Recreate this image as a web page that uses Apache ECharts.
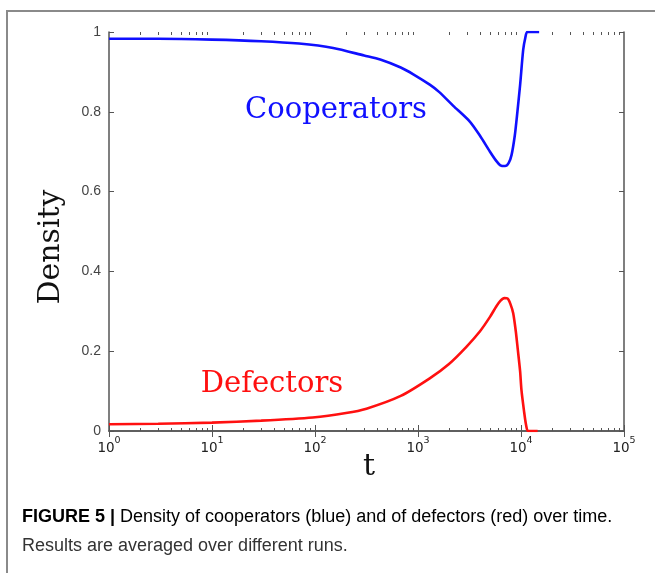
<!DOCTYPE html>
<html>
<head>
<meta charset="utf-8">
<script src="https://cdn.jsdelivr.net/npm/echarts@6/dist/echarts.min.js"></script>
<style>
  html, body { margin: 0; padding: 0; background: #fff; }
  #chart { width: 655px; height: 573px; }
</style>
</head>
<body>
<div id="chart"></div>
<script>
// Time steps (t) and densities for each strategy, averaged over runs
const coopT = [1, 3, 10, 30, 70, 150, 300, 430, 680, 900, 1300, 1600, 2200, 3200, 4000, 5000, 5750, 6300, 7000, 7600, 8100, 8700, 9100, 9800, 10500, 11000, 11500, 15000];
const coopDensity = [0.983, 0.983, 0.981, 0.977, 0.971, 0.960, 0.941, 0.931, 0.911, 0.894, 0.868, 0.850, 0.815, 0.775, 0.740, 0.700, 0.677, 0.666, 0.664, 0.672, 0.692, 0.740, 0.785, 0.867, 0.955, 0.985, 1.0, 1.0];

const defT = [1, 3, 10, 30, 95, 200, 316, 680, 1300, 2000, 2950, 4000, 5000, 5750, 6300, 6900, 7400, 7900, 8400, 8900, 9300, 9800, 10100, 10700, 11200, 11700, 14500];
const defDensity = [0.017, 0.018, 0.021, 0.026, 0.034, 0.045, 0.056, 0.088, 0.132, 0.168, 0.211, 0.250, 0.286, 0.312, 0.326, 0.333, 0.332, 0.318, 0.295, 0.250, 0.205, 0.150, 0.103, 0.050, 0.015, 0.0, 0.0];

const yTicks = [0, 0.2, 0.4, 0.6, 0.8, 1];
const seriesNames = ['Cooperators', 'Defectors'];
const captionBold = 'FIGURE 5 |';
const captionLine1 = ' Density of cooperators (blue) and of defectors (red) over time.';
const captionLine2 = 'Results are averaged over different runs.';

// minor tick positions between decades (2..9 × 10^n)
const minorTicks = [];
for (let n = 0; n < 5; n++) {
  for (let k = 2; k <= 9; k++) minorTicks.push(k * Math.pow(10, n));
}

const axisColor = '#555';
const chart = echarts.init(document.getElementById('chart'), null, { renderer: 'canvas' });

const baseLogAxis = {
  type: 'log', logBase: 10, min: 1, max: 100000, gridIndex: 0,
  axisLine: { show: true, lineStyle: { color: axisColor, width: 1.5 } },
  splitLine: { show: false },
  axisLabel: { show: false }
};

const option = {
  animation: false,
  backgroundColor: '#fff',
  grid: { left: 109, right: 31, top: 32, bottom: 142, containLabel: false },
  xAxis: [
    Object.assign({}, baseLogAxis, {
      position: 'bottom',
      axisTick: { show: true, inside: true, length: 6, lineStyle: { color: axisColor, width: 1 } },
      axisLabel: {
        show: true, margin: 5,
        formatter: function (v) {
          const e = Math.round(Math.log10(v));
          return '{b|10}{s|' + e + '}';
        },
        rich: {
          b: { fontFamily: 'DejaVu Sans', fontSize: 13.5, color: '#222', lineHeight: 19, verticalAlign: 'bottom' },
          s: { fontFamily: 'DejaVu Sans', fontSize: 9.5, color: '#222', lineHeight: 19, verticalAlign: 'top' }
        }
      }
    }),
    Object.assign({}, baseLogAxis, {
      position: 'top',
      axisTick: { show: true, inside: true, length: 6, lineStyle: { color: axisColor, width: 1 } }
    }),
    Object.assign({}, baseLogAxis, {
      position: 'bottom',
      axisLine: { show: false },
      axisTick: { show: true, inside: true, length: 3, customValues: minorTicks, lineStyle: { color: axisColor, width: 1 } }
    }),
    Object.assign({}, baseLogAxis, {
      position: 'top',
      axisLine: { show: false },
      axisTick: { show: true, inside: true, length: 3, customValues: minorTicks, lineStyle: { color: axisColor, width: 1 } }
    })
  ],
  yAxis: [
    {
      type: 'value', min: 0, max: 1, interval: 0.2, position: 'left',
      axisLine: { show: true, lineStyle: { color: axisColor, width: 1.5 } },
      axisTick: { show: true, inside: true, length: 5, customValues: yTicks, lineStyle: { color: axisColor } },
      splitLine: { show: false },
      axisLabel: {
        show: true, margin: 8, color: '#444', fontFamily: 'Liberation Sans', fontSize: 14,
        customValues: yTicks,
        formatter: function (v) { return (v === 0 || v === 1) ? String(v) : v.toFixed(1); }
      }
    },
    {
      type: 'value', min: 0, max: 1, interval: 0.2, position: 'right',
      axisLine: { show: true, lineStyle: { color: axisColor, width: 1.5 } },
      axisTick: { show: true, inside: true, length: 5, lineStyle: { color: axisColor } },
      splitLine: { show: false },
      axisLabel: { show: false }
    }
  ],
  series: [
    {
      name: seriesNames[0], type: 'line', xAxisIndex: 0, yAxisIndex: 0,
      data: coopT.map((t, i) => [t, coopDensity[i]]),
      showSymbol: false, smooth: 0.25,
      lineStyle: { color: '#1010ff', width: 2.6 }
    },
    {
      name: seriesNames[1], type: 'line', xAxisIndex: 0, yAxisIndex: 0,
      data: defT.map((t, i) => [t, defDensity[i]]),
      showSymbol: false, smooth: 0.25,
      lineStyle: { color: '#ff1010', width: 2.6 }
    }
  ],
  graphic: [
    // figure frame (left and top rules)
    { type: 'polyline', shape: { points: [[7, 573], [7, 11], [655, 11]] }, style: { stroke: '#8a8a8a', lineWidth: 2, fill: null } },
    // axis titles
    { type: 'text', x: 51, y: 247, rotation: Math.PI / 2,
      style: { text: 'Density', fontFamily: 'DejaVu Serif', fontSize: 30, fill: '#111', align: 'center', verticalAlign: 'middle' } },
    { type: 'text', x: 369, y: 467,
      style: { text: 't', fontFamily: 'DejaVu Serif', fontSize: 30, fill: '#111', align: 'center', verticalAlign: 'middle' } },
    // series labels
    { type: 'text', x: 336, y: 110,
      style: { text: seriesNames[0], fontFamily: 'DejaVu Serif', fontSize: 29, fill: '#1010ff', align: 'center', verticalAlign: 'middle' } },
    { type: 'text', x: 272, y: 384,
      style: { text: seriesNames[1], fontFamily: 'DejaVu Serif', fontSize: 29, fill: '#ff1010', align: 'center', verticalAlign: 'middle' } },
    // caption
    { type: 'text', x: 22, y: 517,
      style: {
        text: '{b|' + captionBold + '}{r|' + captionLine1 + '}',
        rich: {
          b: { fontFamily: 'Liberation Sans', fontWeight: 'bold', fontSize: 18, color: '#333' },
          r: { fontFamily: 'Liberation Sans', fontSize: 18, color: '#333' }
        },
        verticalAlign: 'middle'
      } },
    { type: 'text', x: 22, y: 546,
      style: { text: captionLine2, fontFamily: 'Liberation Sans', fontSize: 18, fill: '#333', verticalAlign: 'middle' } }
  ]
};

chart.setOption(option);
</script>
</body>
</html>
